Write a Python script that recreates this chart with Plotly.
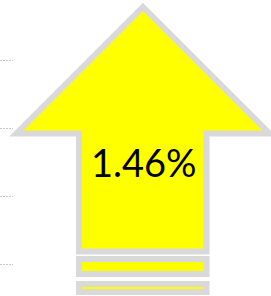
import plotly.graph_objects as go

# Data
value_labels = ["1.46%"]
grid_levels = [60, 128, 196, 264]  # gridline positions on the (hidden) value axis

W, H = 271, 296
YELLOW = "#FFFF00"
GRAY = "#D9D9D9"

fig = go.Figure()

fig.add_trace(go.Scatter(x=[0], y=[0], xaxis="x", yaxis="y", mode="markers",
                         marker=dict(opacity=0), hoverinfo="skip", showlegend=False))
fig.add_trace(go.Scatter(x=[0], y=[0], xaxis="x2", yaxis="y2", mode="markers",
                         marker=dict(opacity=0), hoverinfo="skip", showlegend=False))

arrow_path = "M 143 7 L 269.5 133.5 L 206.5 133.5 L 206.5 251.5 L 79 251.5 L 79 133.5 L 16.5 133.5 Z"
shapes = [
    dict(type="path", path=arrow_path, xref="x2", yref="y2",
         fillcolor=YELLOW, line=dict(color=GRAY, width=6), layer="above"),
    dict(type="rect", x0=79, x1=206.5, y0=259, y1=274, xref="x2", yref="y2",
         fillcolor=YELLOW, line=dict(color=GRAY, width=6), layer="above"),
    dict(type="rect", x0=79, x1=206.5, y0=284, y1=292, xref="x2", yref="y2",
         fillcolor=YELLOW, line=dict(color=GRAY, width=6), layer="above"),
]

fig.update_layout(
    width=W, height=H,
    margin=dict(l=0, r=0, t=0, b=0),
    paper_bgcolor="white", plot_bgcolor="rgba(0,0,0,0)",
    showlegend=False,
    xaxis=dict(domain=[0, 13 / W], range=[0, 1], visible=True, showgrid=False,
               zeroline=False, showticklabels=False, ticks=""),
    yaxis=dict(domain=[0, 1], range=[H, 0], tickvals=grid_levels, showgrid=True,
               gridcolor="#C8C8C8", gridwidth=1, griddash="2px,1px",
               zeroline=False, showticklabels=False, ticks=""),
    xaxis2=dict(domain=[0, 1], range=[0, W], anchor="y2", visible=False),
    yaxis2=dict(domain=[0, 1], range=[H, 0], anchor="x2", visible=False),
    shapes=shapes,
    annotations=[dict(x=143.5, y=162, xref="x2", yref="y2", text=value_labels[0],
                      showarrow=False, font=dict(family="Lato", size=38, color="black"))],
)

fig.write_html("out.html", config={"displayModeBar": False},
               post_script="document.body.style.margin='0';document.body.style.overflow='hidden';")
